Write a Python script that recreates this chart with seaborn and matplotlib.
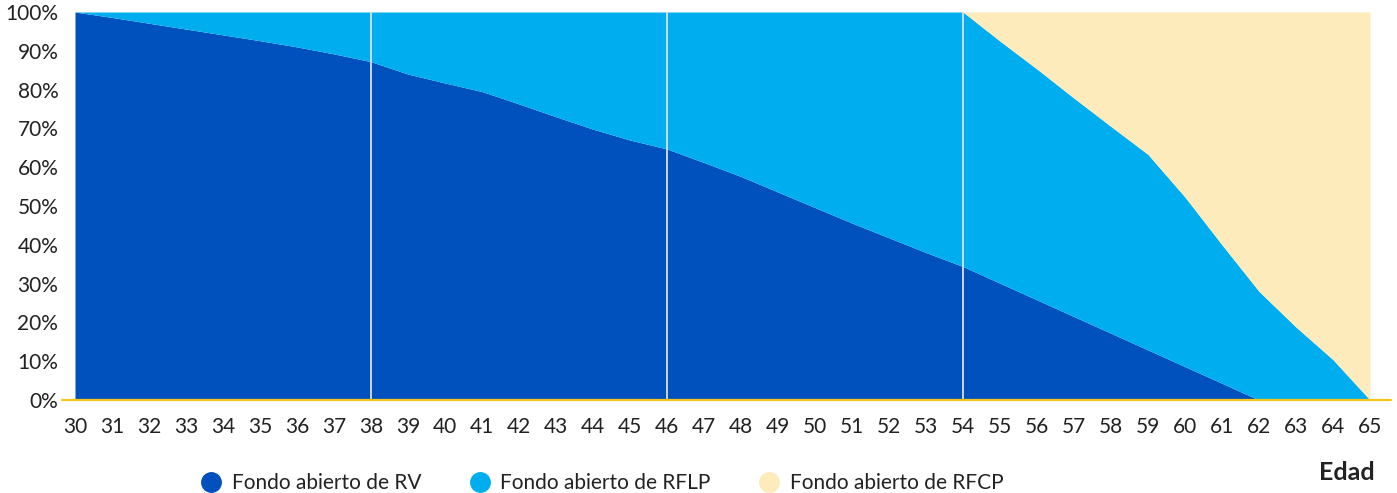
import matplotlib
matplotlib.use("Agg")
import matplotlib.pyplot as plt
from matplotlib.lines import Line2D
import seaborn as sns

# ---- data ----
ages = list(range(30, 66))
rv = [100, 98.6, 97.1, 95.6, 94.1, 92.6, 91.0, 89.2, 87.2, 84.0, 81.7, 79.5,
      76.3, 73.0, 69.8, 67.0, 64.7, 61.2, 57.6, 53.6, 49.6, 45.6, 41.8, 38.0,
      34.4, 30.1, 25.8, 21.5, 17.2, 12.9, 8.6, 4.3, 0, 0, 0, 0]
rflp = [0, 1.4, 2.9, 4.4, 5.9, 7.4, 9.0, 10.8, 12.8, 16.0, 18.3, 20.5,
        23.7, 27.0, 30.2, 33.0, 35.3, 38.8, 42.4, 46.4, 50.4, 54.4, 58.2, 62.0,
        65.6, 62.4, 59.5, 56.3, 53.3, 50.4, 43.7, 35.7, 28.0, 18.8, 10.4, 0]
rfcp = [0] * 25 + [7.5, 14.7, 22.2, 29.5, 36.7, 47.7, 60.0, 72.0, 81.2, 89.6, 100]
series_names = ["Fondo abierto de RV", "Fondo abierto de RFLP", "Fondo abierto de RFCP"]
colors = ["#0050BE", "#00AEEF", "#FDEBBB"]
y_ticks = [0, 10, 20, 30, 40, 50, 60, 70, 80, 90, 100]
y_labels = [f"{v}%" for v in y_ticks]
phase_ages = [38, 46, 54]
x_title = "Edad"

sns.set_theme(style="white")
plt.rcParams["font.family"] = ["Lato", "DejaVu Sans"]

fig = plt.figure(figsize=(13.97, 4.93), dpi=100)
ax = fig.add_axes([75 / 1397, 1 - 400 / 493, 1295 / 1397, 388 / 493])

ax.stackplot(ages, rv, rflp, rfcp, colors=colors, linewidth=0, antialiased=True)
for a in phase_ages:
    ax.axvline(a, color="#dedede", lw=1.3, zorder=3)

ax.set_xlim(ages[0], ages[-1])
ax.set_ylim(0, 100)
ax.set_xticks(ages)
ax.set_xticklabels([str(a) for a in ages], fontsize=15, color="#222222")
ax.set_yticks(y_ticks)
ax.set_yticklabels(y_labels, fontsize=15, color="#222222")
ax.tick_params(axis="x", length=0, pad=12)
ax.tick_params(axis="y", length=0, pad=12)
for s in ax.spines.values():
    s.set_visible(False)

# bottom yellow baseline extending beyond the plot
ax.plot([-0.01, 1.016], [0, 0], transform=ax.get_yaxis_transform(),
        color="#F5C518", lw=1.6, clip_on=False, zorder=4)

handles = [Line2D([0], [0], marker="o", linestyle="", markersize=14,
                  markerfacecolor=c, markeredgecolor=c) for c in colors]
fig.legend(handles, series_names, loc="center", ncol=3, frameon=False,
           bbox_to_anchor=(602 / 1397, 1 - 483 / 493), fontsize=15,
           handlelength=1.0, handletextpad=0.5, columnspacing=2.3,
           labelcolor="#222222")

fig.text(1375 / 1397, 1 - 473 / 493, x_title, ha="right", va="center",
         fontsize=18, fontweight="bold", color="#222222")

fig.savefig("out.png", dpi=100)
